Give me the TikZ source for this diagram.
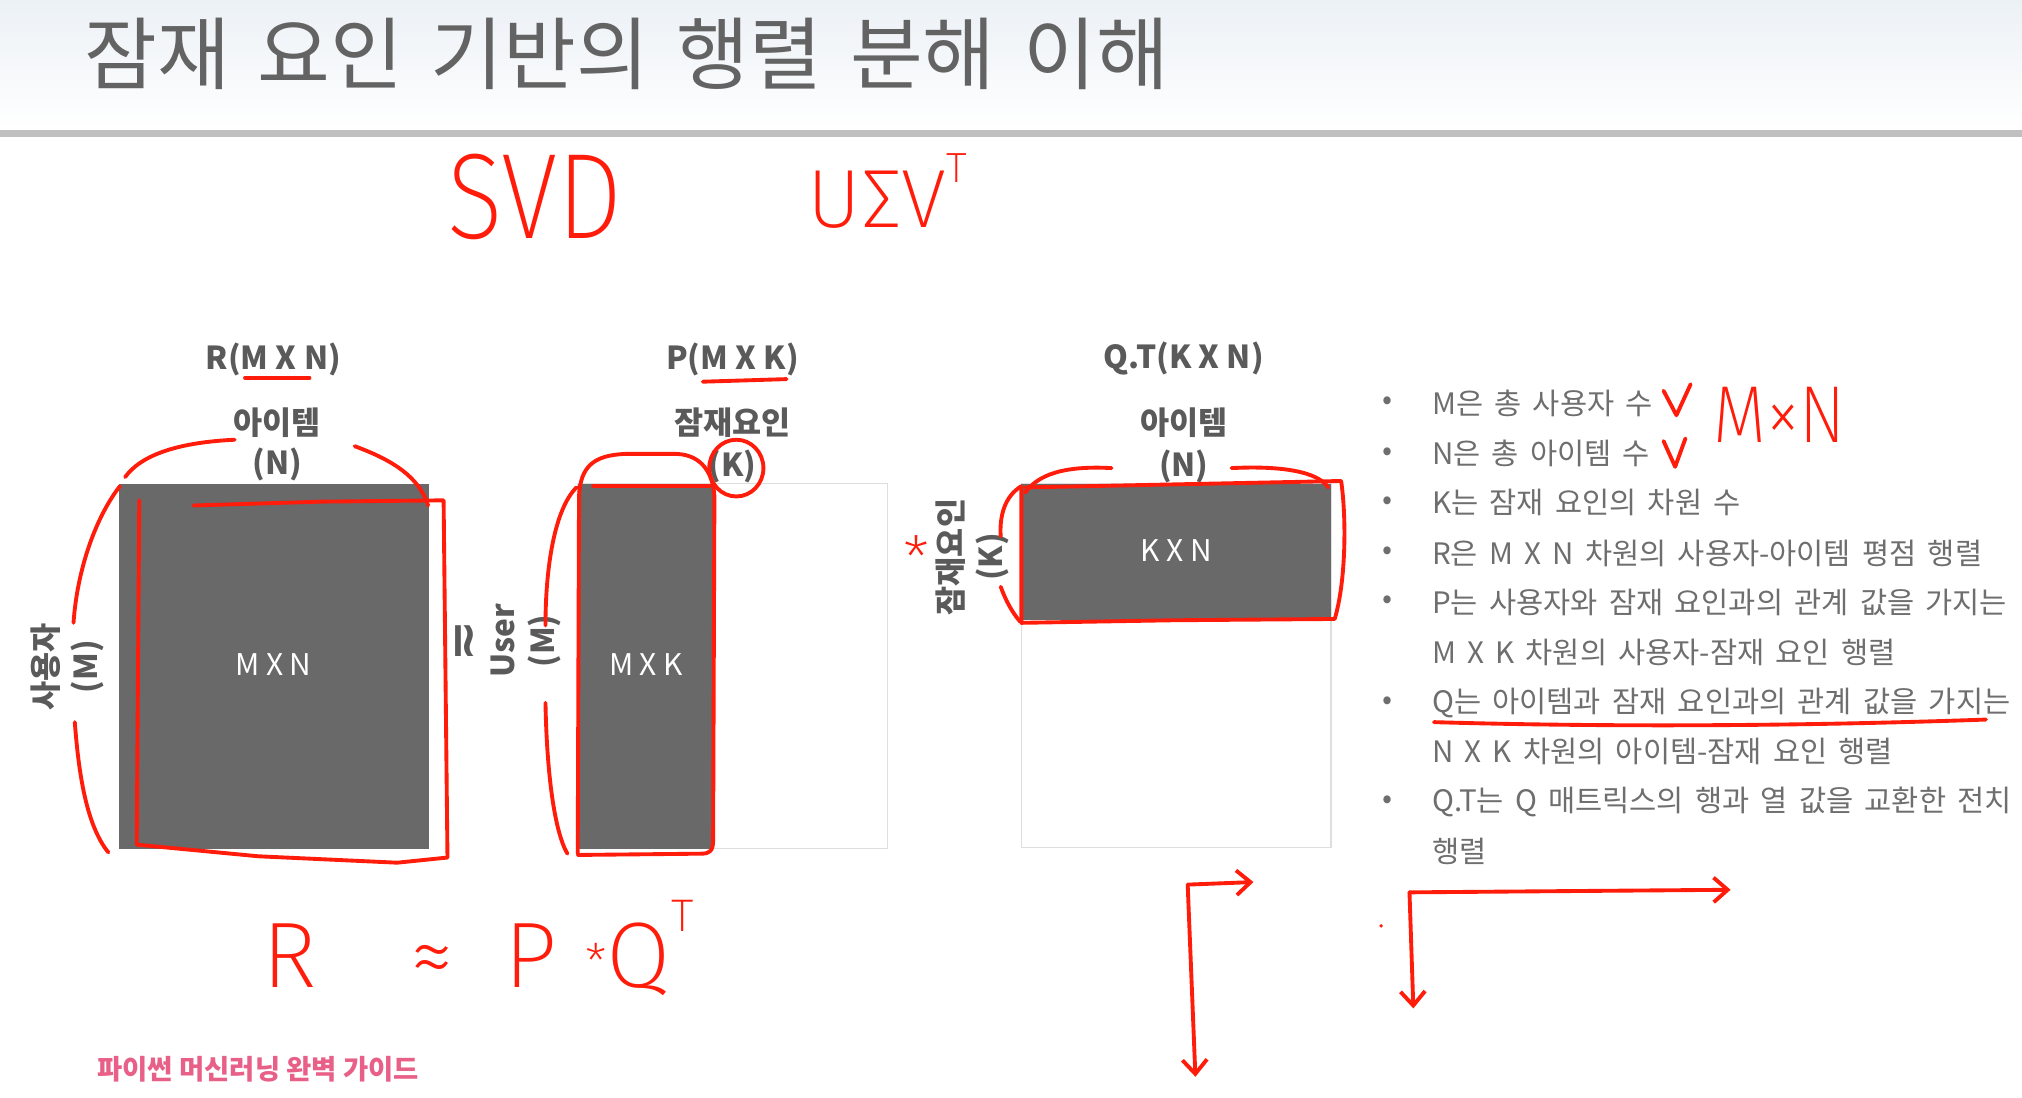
\documentclass[tikz,border=0pt]{standalone}
\usepackage{fontspec}
\newfontfamily\kr{Noto Sans CJK KR}
\newfontfamily\hand{Fira Sans ExtraLight}
\newfontfamily\dv{DejaVu Sans}
\usetikzlibrary{arrows.meta}
\definecolor{matgray}{RGB}{105,105,105}
\definecolor{labgray}{RGB}{90,90,90}
\definecolor{bulgray}{RGB}{110,110,110}
\definecolor{titlegray}{RGB}{99,99,99}
\definecolor{inkred}{RGB}{255,28,10}
\definecolor{pinkfoot}{RGB}{232,95,135}
\definecolor{rulegray}{RGB}{192,192,192}
\definecolor{boxline}{RGB}{222,222,222}
\newcommand\fsz[2]{\fontsize{#1}{#2}\selectfont}
\begin{document}
\begin{tikzpicture}[x=0.012895cm,y=-0.012895cm,
  ink/.style={draw=inkred,line width=1.1pt,line cap=round,line join=round},
  lab/.style={text=labgray,font=\kr\bfseries\fsz{9}{11.4},inner sep=0,align=center},
  mtx/.style={text=white,font=\kr\fsz{8.5}{10},inner sep=0},
  bul/.style={text=bulgray,font={\kr\fsz{8.4}{10}\spaceskip=0.38em\relax},anchor=west,inner sep=0},
  bulletmark/.style={text=bulgray,font=\kr\fsz{8.4}{10},inner sep=0},
  hw/.style={text=inkred,inner sep=0},
  arrowink/.style={ink,-{Straight Barb[length=4pt,width=7pt,line width=1.1pt]}},
  darkbox/.style={fill=matgray,draw=none},
  lightbox/.style={draw=boxline,line width=0.4pt}
]
\useasboundingbox (0,0) rectangle (1568,851);
\fill[white] (0,0) rectangle (1568,851);
% header
\shade[top color={rgb,255:red,236;green,241;blue,246},bottom color=white] (0,0) rectangle (1568,101);
\fill[rulegray] (0,101) rectangle (1568,106);
\node[anchor=west,inner sep=0,text=titlegray,font={\kr\fsz{22.5}{26}\spaceskip=0.35em\relax}] (title) at (65,42) {잠재 요인 기반의 행렬 분해 이해};

% handwritten top
\node[hw,font=\hand\fsz{34.6}{36},xscale=0.85] (svd) at (415,153) {SVD};
\node[hw,font=\hand\fsz{23.5}{24}] (usv) at (688,148) {UΣV\raisebox{0.55em}{\fsz{12}{12}T}};

% matrix boxes
\fill[darkbox] (92,375) rectangle (333,658);
\node[mtx] (rin) at (212,515) {M X N};
\draw[lightbox] (448,375) rectangle (688,658);
\fill[darkbox] (448,375) rectangle (553,658);
\node[mtx] (pin) at (501,515) {M X K};
\draw[lightbox] (792,375) rectangle (1032,657);
\fill[darkbox] (792,375) rectangle (1032,481);
\node[mtx] (qin) at (912,427) {K X N};

% labels
\node[lab] (rlab) at (212,279) {R(M X N)};
\node[lab] (plab) at (568,279) {P(M X K)};
\node[lab] (qlab) at (918,278) {Q.T(K X N)};
\node[lab] (ritem) at (215,328) {아이템};
\node[lab] (rn) at (215,360) {(N)};
\node[lab] (platent) at (568,328) {잠재요인};
\node[lab] (pk) at (568,362) {(K)};
\node[lab] (qitem) at (918,328) {아이템};
\node[lab] (qn) at (918,362) {(N)};
\node[lab,rotate=90] (ruser) at (52,517) {사용자\\(M)};
\node[lab,rotate=90] (puser) at (408,497) {User\\(M)};
\node[text=labgray,font=\dv\bfseries\fsz{14}{14},inner sep=0,rotate=-90] (approx) at (358,497) {≃};
\node[lab,rotate=90] (qlatent) at (754,432) {잠재요인\\(K)};
\node[hw,font=\hand\fsz{17}{17}] (star) at (711,432) {*};

% bullets
\foreach \yy in {313,352,390,429,467,545,622} \node[bulletmark] at (1076,\yy) {•};
\node[bul] (b1) at (1110,313) {M은 총 사용자 수};
\node[bul] (b2) at (1110,352) {N은 총 아이템 수};
\node[bul] (b3) at (1110,390) {K는 잠재 요인의 차원 수};
\node[bul] (b4) at (1110,429) {R은 M X N 차원의 사용자-아이템 평점 행렬};
\node[bul] (b5) at (1110,467) {P는 사용자와 잠재 요인과의 관계 값을 가지는};
\node[bul] (b5b) at (1110,506) {M X K 차원의 사용자-잠재 요인 행렬};
\node[bul] (b6) at (1110,545) {Q는 아이템과 잠재 요인과의 관계 값을 가지는};
\node[bul] (b6b) at (1110,583) {N X K 차원의 아이템-잠재 요인 행렬};
\node[bul] (b7) at (1110,622) {Q.T는 Q 매트릭스의 행과 열 값을 교환한 전치};
\node[bul] (b7b) at (1110,660) {행렬};

% footer
\node[anchor=west,inner sep=0,text=pinkfoot,font=\kr\bfseries\fsz{7.8}{9}] (foot) at (75,829) {파이썬 머신러닝 완벽 가이드};

% handwritten bottom / right
\node[hw,font=\hand\fsz{26.5}{28},anchor=west] (eq) at (203,735) {R\hspace{1em}≈\hspace{0.55em}P\hspace{0.3em}\raisebox{0.08em}{\fsz{14}{14}*}Q\raisebox{0.6em}{\fsz{13}{13}T}};
\node[hw,font=\hand\fsz{23}{24},xscale=0.85] (mxn) at (1380,322) {M×N};

% ink strokes: R matrix
\draw[ink] (190,293) -- (240,293);
\draw[ink] (97,370) .. controls (110,352) and (140,343) .. (182,341);
\draw[ink] (275,346) .. controls (305,357) and (325,370) .. (332,392);
\draw[ink] (93,377) .. controls (75,400) and (60,440) .. (57,483);
\draw[ink] (58,560) .. controls (61,600) and (67,640) .. (84,661);
\draw[ink] (150,392) -- (250,389) -- (344,388) -- (347,665) -- (308,669) -- (200,664) -- (106,655) -- (108,388);
% P matrix
\draw[ink] (545,296) -- (610,294);
\draw[ink] (448,662) -- (449,385) .. controls (450,362) and (460,353) .. (485,352) -- (525,352)
   .. controls (545,353) and (553,368) .. (554,385) -- (553,652) .. controls (553,660) and (550,662) .. (544,662) -- (448,663);
\draw[ink] (460,377) -- (550,377);
\draw[ink] (447,378) .. controls (430,395) and (423,440) .. (423,485);
\draw[ink] (423,545) .. controls (424,600) and (430,645) .. (440,662);
\draw[ink] (571,363) ellipse [x radius=21, y radius=22];
% Q matrix
\draw[ink] (795,378) -- (1040,373) .. controls (1044,400) and (1044,450) .. (1035,480) -- (910,481) -- (792,483) -- (792,378);
\draw[ink] (795,382) .. controls (805,368) and (825,361) .. (862,363);
\draw[ink] (955,363) .. controls (995,361) and (1022,366) .. (1030,378);
\draw[ink] (792,377) .. controls (779,385) and (775,400) .. (776,416);
\draw[ink] (776,455) .. controls (780,466) and (785,475) .. (791,482);
% checks and underline
\draw[ink] (1290,303) -- (1300,322) -- (1311,298);
\draw[ink] (1290,342) -- (1299,362) -- (1307,340);
\draw[ink] (1112,560) .. controls (1250,564) and (1400,563) .. (1540,558);
% arrows
\coordinate (c1) at (921,686);
\coordinate (c1r) at (972,684);
\coordinate (c1d) at (927,835);
\draw[arrowink] (c1) -- (c1r);
\draw[arrowink] (c1) -- (c1d);
\coordinate (c2) at (1093,692);
\coordinate (c2r) at (1342,690);
\coordinate (c2d) at (1096,782);
\draw[arrowink] (c2) -- (c2r);
\draw[arrowink] (c2) -- (c2d);
\fill[inkred] (1071,718) circle (1.5);
\end{tikzpicture}
\end{document}
